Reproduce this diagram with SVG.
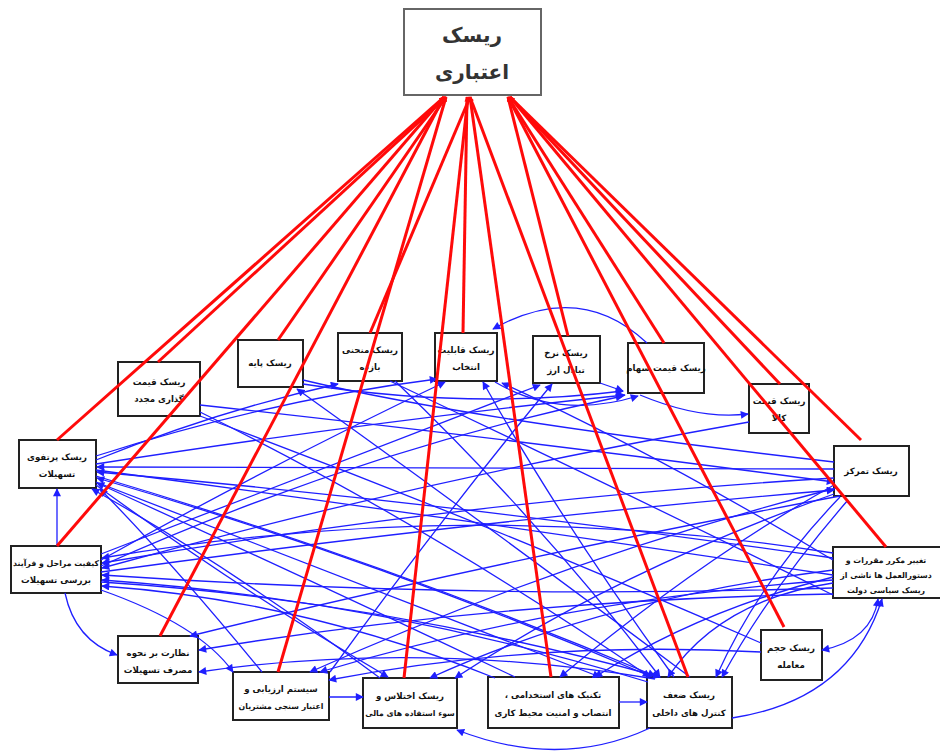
<svg xmlns="http://www.w3.org/2000/svg" width="940" height="754" viewBox="0 0 940 754">
<style>
.box{fill:#fff;stroke:#222;stroke-width:2}
.top{fill:#fff;stroke:#666;stroke-width:2}
.t{font-family:"DejaVu Sans",sans-serif;font-size:8.6px;font-weight:bold;fill:#111;text-anchor:middle;direction:rtl}
.s{font-size:7.8px}
.tt{font-family:"DejaVu Sans",sans-serif;font-size:20px;font-weight:bold;fill:#333;text-anchor:middle;direction:rtl}
.b{fill:none;stroke:#1f1fff;stroke-width:1.3}
.ba{fill:none;stroke:#1f1fff;stroke-width:1.3;marker-end:url(#ab)}
.r{fill:none;stroke:#ff0a0a;stroke-width:3;marker-start:url(#ar)}
</style>
<defs>
<marker id="ab" viewBox="0 0 10 10" refX="9" refY="5" markerWidth="9" markerHeight="8" markerUnits="userSpaceOnUse" orient="auto"><path d="M0,0 L10,5 L0,10 z" fill="#1f1fff"/></marker>
<marker id="abs" viewBox="0 0 10 10" refX="9" refY="5" markerWidth="9" markerHeight="8" markerUnits="userSpaceOnUse" orient="auto-start-reverse"><path d="M0,0 L10,5 L0,10 z" fill="#1f1fff"/></marker>
<marker id="ar" viewBox="0 0 10 10" refX="9" refY="5" markerWidth="6" markerHeight="5" markerUnits="userSpaceOnUse" orient="auto-start-reverse"><path d="M0,0 L10,5 L0,10 z" fill="#ff0a0a"/></marker>
</defs>

<g id="n0"><rect class="top" x="404" y="9" width="137" height="86"/><text class="tt" x="472" y="42">ریسک</text><text class="tt" x="472" y="79">اعتباری</text></g>
<g id="n2"><rect class="box" x="118" y="362" width="82" height="54"/><text class="t" x="159" y="385">ریسک قیمت</text><text class="t" x="159" y="402">گذاری مجدد</text></g>
<g id="n3"><rect class="box" x="238" y="340" width="65" height="47"/><text class="t" x="270" y="366">ریسک پایه</text></g>
<g id="n4"><rect class="box" x="338" y="333" width="64" height="48"/><text class="t" x="370" y="353">ریسک منحنی</text><text class="t" x="370" y="370">بازده</text></g>
<g id="n5"><rect class="box" x="435" y="333" width="62" height="48"/><text class="t" x="466" y="353">ریسک قابلیت</text><text class="t" x="466" y="370">انتخاب</text></g>
<g id="n6"><rect class="box" x="533" y="336" width="67" height="47"/><text class="t" x="566" y="356">ریسک نرخ</text><text class="t" x="566" y="373">تبادل ارز</text></g>
<g id="n7"><rect class="box" x="628" y="343" width="76" height="50"/><text class="t" x="666" y="371">ریسک قیمت سهام</text></g>
<g id="n8"><rect class="box" x="749" y="384" width="60" height="49"/><text class="t" x="779" y="404">ریسک قیمت</text><text class="t" x="779" y="421">کالا</text></g>
<g id="n9"><rect class="box" x="834" y="446" width="75" height="50"/><text class="t" x="871" y="474">ریسک تمرکز</text></g>
<g id="n10"><rect class="box" x="19" y="440" width="77" height="48"/><text class="t" x="57" y="460">ریسک پرتفوی</text><text class="t" x="57" y="477">تسهیلات</text></g>
<g id="n11"><rect class="box" x="11" y="546" width="90" height="47"/><text class="t s" x="56" y="566">کیفیت مراحل و فرآیند</text><text class="t" x="56" y="583">بررسی تسهیلات</text></g>
<g id="n12"><rect class="box" x="833" y="547" width="120" height="51"/><text class="t s" x="886" y="563">تغییر مکرر مقررات و</text><text class="t s" x="886" y="578">دستورالعمل ها ناشی از</text><text class="t s" x="886" y="593">ریسک سیاسی دولت</text></g>
<g id="n13"><rect class="box" x="118" y="636" width="80" height="47"/><text class="t" x="158" y="656">نظارت بر نحوه</text><text class="t" x="158" y="673">مصرف تسهیلات</text></g>
<g id="n14"><rect class="box" x="233" y="672" width="96" height="48"/><text class="t" x="281" y="692">سیستم ارزیابی و</text><text class="t s" x="281" y="709">اعتبار سنجی مشتریان</text></g>
<g id="n15"><rect class="box" x="363" y="678" width="94" height="50"/><text class="t" x="410" y="699">ریسک اختلاس و</text><text class="t s" x="410" y="716">سوء استفاده های مالی</text></g>
<g id="n16"><rect class="box" x="488" y="677" width="131" height="51"/><text class="t" x="553" y="698">تکنیک های استخدامی ،</text><text class="t" x="553" y="716">انتصاب و امنیت محیط کاری</text></g>
<g id="n17"><rect class="box" x="647" y="677" width="85" height="51"/><text class="t" x="689" y="698">ریسک ضعف</text><text class="t" x="689" y="716">کنترل های داخلی</text></g>
<g id="n18"><rect class="box" x="761" y="630" width="61" height="50"/><text class="t" x="791" y="651">ریسک حجم</text><text class="t" x="791" y="668">معامله</text></g>

<g id="blue-connectors">
<path class="ba" d="M834,469 L97,467"/>
<path class="ba" d="M833,558 Q470,505 97,472"/>
<path class="ba" d="M652,677 Q380,560 97,478"/>
<path class="ba" d="M515,677 Q300,575 97,483"/>
<path class="ba" d="M380,678 Q220,560 92,489"/>
<path class="ba" d="M262,672 Q170,560 100,489"/>
<path class="ba" d="M57,546 L57,489"/>
<path class="ba" d="M96,456 Q270,400 437,379"/>
<path class="ba" d="M96,460 Q220,410 338,384"/>
<path class="ba" d="M96,464 Q380,420 625,395"/>
<path class="b" d="M96,470 Q470,520 833,575"/>
<path class="ba" d="M96,476 Q380,560 655,676"/>
<path class="ba" d="M96,482 Q350,580 600,677"/>
<path class="ba" d="M96,485 Q240,590 388,677"/>
<path class="ba" d="M833,553 Q470,495 102,558"/>
<path class="ba" d="M834,478 Q470,500 102,563"/>
<path class="ba" d="M749,422 Q420,480 102,568"/>
<path class="ba" d="M648,682 Q380,600 102,580"/>
<path class="ba" d="M495,678 Q300,600 102,586"/>
<path class="ba" d="M833,588 Q470,600 102,575"/>
<path class="ba" d="M101,554 Q320,470 540,385"/>
<path class="ba" d="M101,560 Q280,460 445,382"/>
<path class="ba" d="M101,566 Q360,450 623,396"/>
<path class="ba" d="M101,582 Q380,600 660,677"/>
<path class="ba" d="M101,590 Q200,625 233,672"/>
<path class="ba" d="M65,593 Q75,640 117,655"/>
<path class="ba" d="M101,572 Q480,520 834,490"/>
<path class="ba" d="M833,594 Q500,600 199,650"/>
<path class="ba" d="M655,679 Q420,640 199,672"/>
<path class="ba" d="M840,496 Q500,560 190,636"/>
<path class="ba" d="M836,488 Q560,560 310,672"/>
<path class="ba" d="M833,580 Q560,600 320,672"/>
<path class="ba" d="M761,652 Q540,640 329,680"/>
<path class="ba" d="M329,697 L363,697"/>
<path class="ba" d="M833,570 Q600,600 430,678"/>
<path class="ba" d="M834,494 Q620,570 455,678"/>
<path class="ba" d="M833,577 Q700,610 595,677"/>
<path class="ba" d="M619,702 L647,702"/>
<path class="ba" d="M200,412 Q420,520 650,677"/>
<path class="ba" d="M690,677 Q480,520 297,389"/>
<path class="ba" d="M395,381 Q540,520 660,677"/>
<path class="ba" d="M674,677 Q560,520 483,382"/>
<path class="ba" d="M840,497 Q760,580 716,677"/>
<path class="ba" d="M848,500 Q770,590 722,677"/>
<path class="ba" d="M732,718 Q850,700 882,599"/>
<path class="ba" d="M878,599 Q872,640 822,650" style="marker-start:url(#abs)"/>
<path class="ba" d="M650,728 Q560,770 457,730"/>
<path class="b" d="M200,416 Q480,520 761,643"/>
<path class="b" d="M303,380 Q470,420 834,462"/>
<path class="ba" d="M303,384 Q470,410 623,391"/>
<path class="ba" d="M647,343 Q580,280 493,329"/>
<path class="ba" d="M640,395 Q700,420 748,414"/>
<path class="ba" d="M600,383 L623,391"/>
<path class="ba" d="M330,672 Q440,520 552,384"/>
<path class="b" d="M390,381 Q600,480 833,595"/>
<path class="ba" d="M833,560 Q650,450 502,383"/>
<path class="ba" d="M495,382 Q560,420 638,396"/>
<path class="ba" d="M834,485 Q700,560 560,677"/>
<path class="ba" d="M833,583 Q720,600 668,677"/>
<path class="ba" d="M200,405 Q520,440 834,482"/>
</g>

<g id="red-connectors">
<path class="r" d="M444,97 L57,440"/>
<path class="r" d="M446,97 L158,362"/>
<path class="r" d="M444,97 L57,546"/>
<path class="r" d="M446,97 L278,340"/>
<path class="r" d="M444,97 L160,636"/>
<path class="r" d="M446,97 L278,672"/>
<path class="r" d="M470,97 L370,333"/>
<path class="r" d="M467,97 L463,333"/>
<path class="r" d="M468,97 L404,678"/>
<path class="r" d="M470,97 L551,677"/>
<path class="r" d="M470,97 L688,677"/>
<path class="r" d="M508,97 L568,336"/>
<path class="r" d="M508,97 L664,343"/>
<path class="r" d="M510,97 L780,384"/>
<path class="r" d="M510,97 L861,440"/>
<path class="r" d="M508,97 L784,627"/>
<path class="r" d="M510,97 L886,547"/>
</g>
</svg>
